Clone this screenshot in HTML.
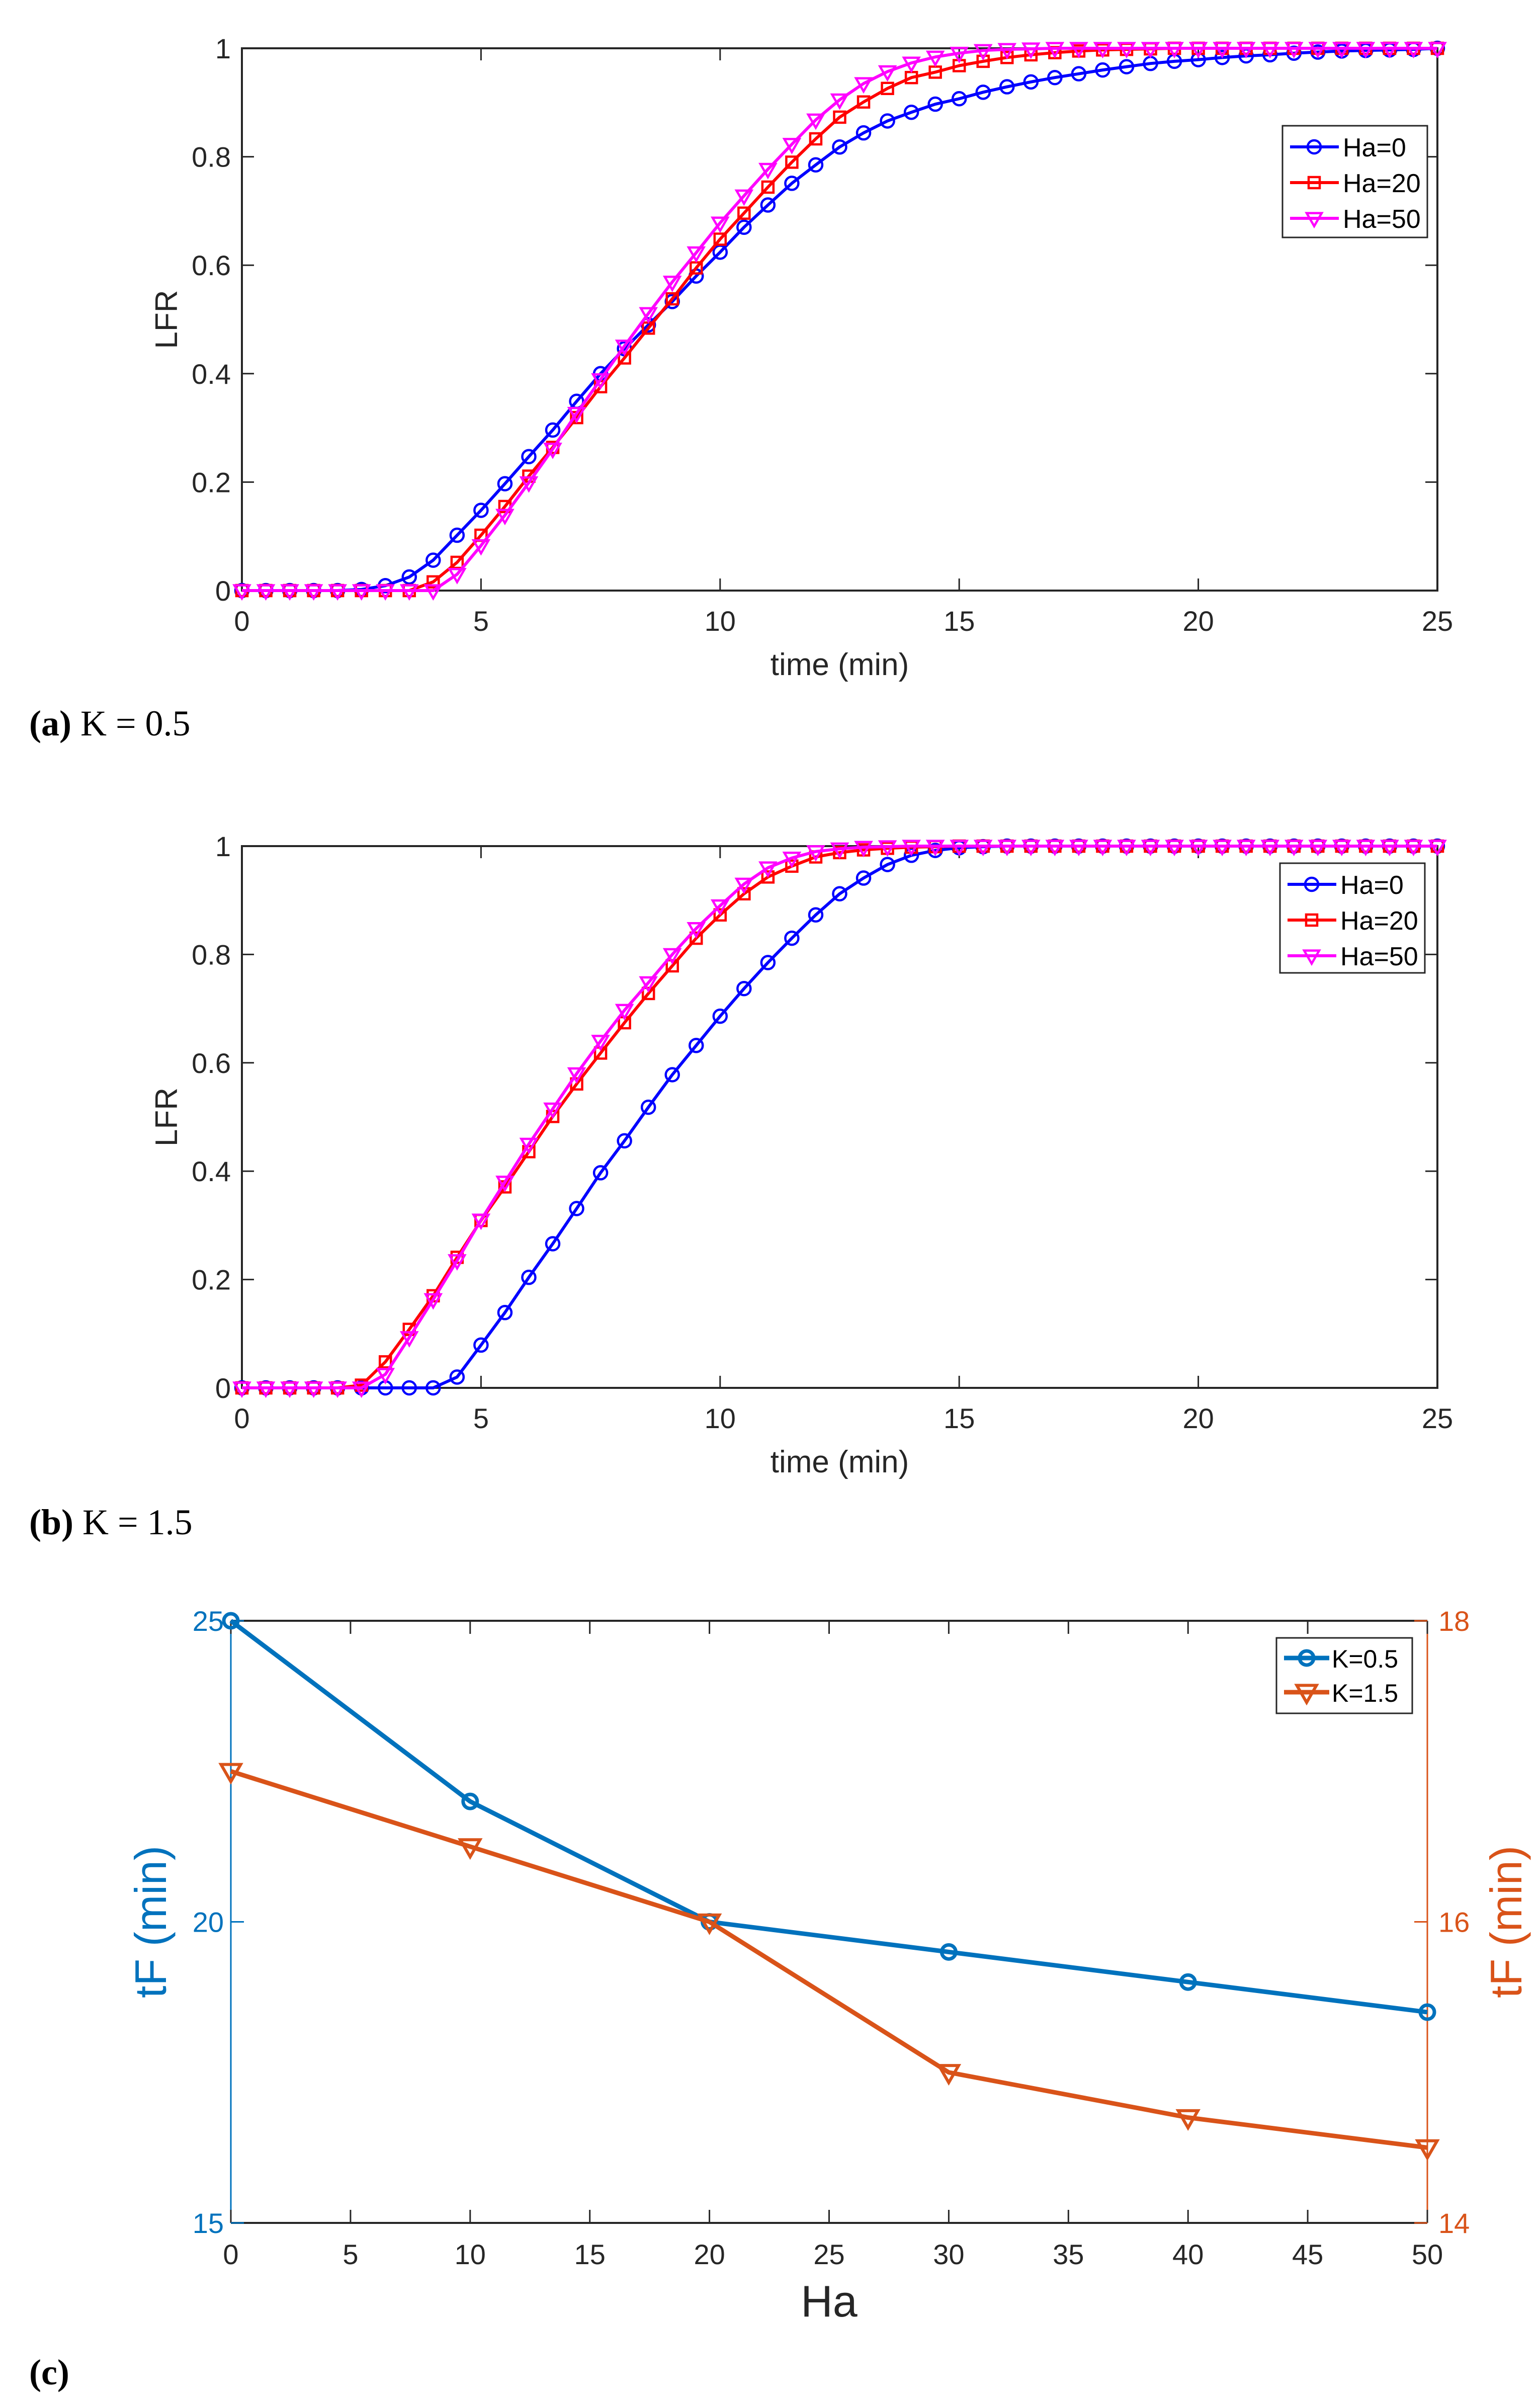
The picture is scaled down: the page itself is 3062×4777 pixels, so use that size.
<!DOCTYPE html>
<html><head><meta charset="utf-8"><style>
html,body{margin:0;padding:0;background:#fff;}
svg{display:block;}
text{font-family:"Liberation Sans",sans-serif;}
.cap{font-family:"Liberation Serif",serif;}
</style></head><body>
<svg id="fig" width="3062" height="4777" viewBox="0 0 3062 4777" xmlns="http://www.w3.org/2000/svg">
<rect width="3062" height="4777" fill="#fff"/>
<text class="cap" x="58" y="1462" font-size="72"><tspan font-weight="bold">(a)</tspan> K = 0.5</text>
<text class="cap" x="58" y="3050" font-size="72"><tspan font-weight="bold">(b)</tspan> K = 1.5</text>
<text class="cap" x="58" y="4740" font-size="72"><tspan font-weight="bold">(c)</tspan></text>
</svg>
<script>
const timeA = [];
for (let i = 0; i <= 50; i++) timeA.push(i * 0.5);
const lfrA_Ha0 = [0,0,0,0,0,0.002,0.009,0.025,0.056,0.102,0.148,0.197,0.247,0.296,0.349,0.40,0.446,0.49,0.533,0.58,0.624,0.67,0.711,0.751,0.785,0.818,0.844,0.866,0.882,0.897,0.907,0.919,0.929,0.938,0.946,0.953,0.96,0.966,0.972,0.976,0.979,0.983,0.986,0.988,0.991,0.993,0.995,0.996,0.997,0.998,1];
const lfrA_Ha20 = [0,0,0,0,0,0,0,0,0.016,0.052,0.102,0.155,0.211,0.264,0.319,0.376,0.429,0.484,0.538,0.595,0.648,0.696,0.744,0.79,0.833,0.873,0.901,0.926,0.946,0.956,0.968,0.976,0.983,0.988,0.992,0.995,0.997,0.998,0.999,1,1,1,1,1,1,1,1,1,1,1,1];
const lfrA_Ha50 = [0,0,0,0,0,0,0,0,0,0.03,0.083,0.139,0.199,0.261,0.327,0.389,0.451,0.511,0.569,0.623,0.678,0.728,0.777,0.823,0.868,0.905,0.935,0.957,0.973,0.984,0.991,0.996,0.998,0.999,1,1,1,1,1,1,1,1,1,1,1,1,1,1,1,1,1];
const lfrB_Ha0 = [0,0,0,0,0,0,0,0,0,0.02,0.079,0.139,0.204,0.266,0.331,0.397,0.456,0.518,0.578,0.632,0.686,0.737,0.785,0.83,0.873,0.912,0.941,0.966,0.983,0.992,0.997,0.999,1,1,1,1,1,1,1,1,1,1,1,1,1,1,1,1,1,1,1];
const lfrB_Ha20 = [0,0,0,0,0,0.005,0.048,0.108,0.17,0.241,0.309,0.371,0.436,0.501,0.561,0.618,0.674,0.728,0.779,0.83,0.873,0.912,0.943,0.963,0.98,0.988,0.993,0.996,0.998,0.999,1,1,1,1,1,1,1,1,1,1,1,1,1,1,1,1,1,1,1,1,1];
const lfrB_Ha50 = [0,0,0,0,0,0,0.025,0.093,0.163,0.235,0.31,0.38,0.45,0.515,0.58,0.64,0.697,0.748,0.8,0.848,0.89,0.93,0.96,0.978,0.99,0.995,0.998,0.999,1,1,1,1,1,1,1,1,1,1,1,1,1,1,1,1,1,1,1,1,1,1,1];
const xTicksAB = [0,5,10,15,20,25];
const yTicksAB = [0,0.2,0.4,0.6,0.8,1];
const yTickLabelsAB = ['0','0.2','0.4','0.6','0.8','1'];
const haC = [0,10,20,30,40,50];
const tfK05 = [25,22,20,19.5,19,18.5];
const tfK15 = [17,16.5,16,15,14.7,14.5];
const xTicksC = [0,5,10,15,20,25,30,35,40,45,50];
const yTicksCL = [15,20,25];
const yTicksCR = [14,16,18];

const NS = 'http://www.w3.org/2000/svg';
const svg = document.getElementById('fig');
function mk(tag, attrs, parent) {
  const e = document.createElementNS(NS, tag);
  for (const k in attrs) e.setAttribute(k, attrs[k]);
  (parent || svg).appendChild(e);
  return e;
}
function marker(g, type, x, y, color, r, sw) {
  let m;
  if (type === 'circle') m = mk('circle', {cx:x, cy:y, r:r, fill:'none', stroke:color, 'stroke-width':sw}, g);
  else if (type === 'square') m = mk('rect', {x:x-r, y:y-r, width:2*r, height:2*r, fill:'none', stroke:color, 'stroke-width':sw}, g);
  else m = mk('polygon', {points:(x-r*1.15)+','+(y-r*0.8)+' '+(x+r*1.15)+','+(y-r*0.8)+' '+x+','+(y+r*1.2), fill:'none', stroke:color, 'stroke-width':sw}, g);
  
  
}
function series(g, xs, ys, sx, sy, color, type, lw, r, sw, name) {
  const pts = xs.map((v,i) => sx(v)+','+sy(ys[i])).join(' ');
  const l = mk('polyline', {points:pts, fill:'none', stroke:color, 'stroke-width':lw, 'stroke-linejoin':'round'}, g);
  
  
  xs.forEach((v,i) => marker(g, type, sx(v), sy(ys[i]), color, r, sw));
}

function lfrPanel(id, top, bottom, data, legend) {
  const L = 481, R = 2858;
  const g = mk('g', {});
  
  
  const sx = v => L + (v / 25) * (R - L);
  const sy = v => bottom - v * (bottom - top);
  mk('rect', {x:L, y:top, width:R-L, height:bottom-top, fill:'none', stroke:'#262626', 'stroke-width':4}, g);
  xTicksAB.forEach(t => {
    const x = sx(t);
    mk('line', {x1:x, y1:bottom, x2:x, y2:bottom-24, stroke:'#262626', 'stroke-width':3}, g);
    mk('line', {x1:x, y1:top, x2:x, y2:top+24, stroke:'#262626', 'stroke-width':3}, g);
    const tx = mk('text', {x:x, y:bottom+80, 'font-size':56, fill:'#262626', 'text-anchor':'middle'}, g);
    tx.textContent = t;
    
    
  });
  yTicksAB.forEach((t,i) => {
    const y = sy(t);
    mk('line', {x1:L, y1:y, x2:L+24, y2:y, stroke:'#262626', 'stroke-width':3}, g);
    mk('line', {x1:R, y1:y, x2:R-24, y2:y, stroke:'#262626', 'stroke-width':3}, g);
    const tx = mk('text', {x:L-22, y:y+20, 'font-size':56, fill:'#262626', 'text-anchor':'end'}, g);
    tx.textContent = yTickLabelsAB[i];
    
    
  });
  const xl = mk('text', {x:(L+R)/2, y:bottom+168, 'font-size':62, fill:'#262626', 'text-anchor':'middle'}, g);
  xl.textContent = 'time (min)';
  
  
  const cy = (top+bottom)/2;
  const yl = mk('text', {x:352, y:cy, 'font-size':62, fill:'#262626', 'text-anchor':'middle', transform:'rotate(-90 352 '+cy+')'}, g);
  yl.textContent = 'LFR';
  
  
  const cfg = [['#0000ff','circle','Ha=0'],['#ff0000','square','Ha=20'],['#ff00ff','tri','Ha=50']];
  data.forEach((d,i) => series(g, timeA, d, sx, sy, cfg[i][0], cfg[i][1], 6, i===1?11:13, 4.5, 'series-' + cfg[i][2].toLowerCase().replace('=','')));
  const lg = mk('g', {}, g);
  
  
  mk('rect', {x:legend[0], y:legend[1], width:legend[2], height:legend[3], fill:'#fff', stroke:'#262626', 'stroke-width':3}, lg);
  cfg.forEach((c,i) => {
    const y = legend[1] + 42 + i*71;
    mk('line', {x1:legend[0]+15, y1:y, x2:legend[0]+112, y2:y, stroke:c[0], 'stroke-width':6}, lg);
    marker(lg, c[1], legend[0]+63, y, c[0], i===1?11:13, 4.5);
    const t = mk('text', {x:legend[0]+120, y:y+19, 'font-size':52, fill:'#000'}, lg);
    t.textContent = c[2];
    
    
  });
}
lfrPanel('a', 96, 1174, [lfrA_Ha0, lfrA_Ha20, lfrA_Ha50], [2550, 250, 288, 222]);
lfrPanel('b', 1682, 2759, [lfrB_Ha0, lfrB_Ha20, lfrB_Ha50], [2545, 1716, 288, 218]);

(function(){
  const L = 459, R = 2838, top = 3222, bottom = 4419;
  const blue = '#0072BD', orange = '#D95319';
  const g = mk('g', {});
  
  
  const sx = v => L + (v / 50) * (R - L);
  const syL = v => bottom - (v - 15) / 10 * (bottom - top);
  const syR = v => bottom - (v - 14) / 4 * (bottom - top);
  mk('line', {x1:L, y1:top, x2:R, y2:top, stroke:'#262626', 'stroke-width':4}, g);
  mk('line', {x1:L, y1:bottom, x2:R, y2:bottom, stroke:'#262626', 'stroke-width':4}, g);
  mk('line', {x1:L, y1:top, x2:L, y2:bottom, stroke:blue, 'stroke-width':3}, g);
  mk('line', {x1:R, y1:top, x2:R, y2:bottom, stroke:orange, 'stroke-width':3}, g);
  xTicksC.forEach(t => {
    const x = sx(t);
    mk('line', {x1:x, y1:bottom, x2:x, y2:bottom-26, stroke:'#262626', 'stroke-width':3}, g);
    mk('line', {x1:x, y1:top, x2:x, y2:top+26, stroke:'#262626', 'stroke-width':3}, g);
    const tx = mk('text', {x:x, y:bottom+82, 'font-size':56, fill:'#262626', 'text-anchor':'middle'}, g);
    tx.textContent = t;
    
    
  });
  yTicksCL.forEach(t => {
    const y = syL(t);
    mk('line', {x1:L, y1:y, x2:L+26, y2:y, stroke:blue, 'stroke-width':3}, g);
    const tx = mk('text', {x:L-14, y:y+20, 'font-size':56, fill:blue, 'text-anchor':'end'}, g);
    tx.textContent = t;
    
    
  });
  yTicksCR.forEach(t => {
    const y = syR(t);
    mk('line', {x1:R, y1:y, x2:R-26, y2:y, stroke:orange, 'stroke-width':3}, g);
    const tx = mk('text', {x:R+22, y:y+20, 'font-size':56, fill:orange}, g);
    tx.textContent = t;
    
    
  });
  const xl = mk('text', {x:(L+R)/2, y:bottom+186, 'font-size':88, fill:'#262626', 'text-anchor':'middle'}, g);
  xl.textContent = 'Ha';
  
  
  const cy = (top+bottom)/2;
  const yl = mk('text', {x:330, y:cy, 'font-size':88, fill:blue, 'text-anchor':'middle', transform:'rotate(-90 330 '+cy+')'}, g);
  yl.textContent = 'tF (min)';
  
  
  const yr = mk('text', {x:3025, y:cy, 'font-size':88, fill:orange, 'text-anchor':'middle', transform:'rotate(-90 3025 '+cy+')'}, g);
  yr.textContent = 'tF (min)';
  
  
  series(g, haC, tfK05, sx, syL, blue, 'circle', 9, 14, 7, 'series-k0.5');
  series(g, haC, tfK15, sx, syR, orange, 'tri', 9, 17, 6, 'series-k1.5');
  const lg = mk('g', {}, g);
  
  
  mk('rect', {x:2538, y:3256, width:270, height:150, fill:'#fff', stroke:'#262626', 'stroke-width':3}, lg);
  [[blue,'circle','K=0.5',14,7],[orange,'tri','K=1.5',17,6]].forEach((c,i) => {
    const y = 3296 + i*68;
    mk('line', {x1:2553, y1:y, x2:2643, y2:y, stroke:c[0], 'stroke-width':9}, lg);
    marker(lg, c[1], 2598, y, c[0], c[3], c[4]);
    const t = mk('text', {x:2648, y:y+19, 'font-size':50, fill:'#000'}, lg);
    t.textContent = c[2];
    
    
  });
})();
</script>
</body></html>
